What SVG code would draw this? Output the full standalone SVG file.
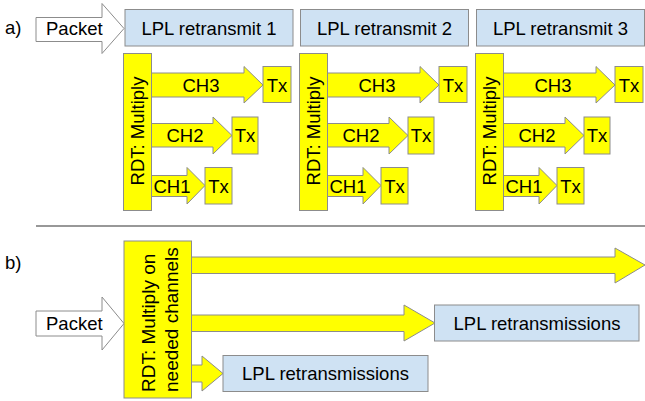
<svg xmlns="http://www.w3.org/2000/svg" width="645" height="401" viewBox="0 0 645 401">
<style>
text{font-family:"Liberation Sans",Arial,sans-serif;font-size:18.5px;fill:#000}
.c{text-anchor:middle}
.y{fill:#ffff00;stroke:#8c8c8c;stroke-width:1}
.b{fill:#cfe2f3;stroke:#8c8c8c;stroke-width:1}
.w{fill:#fff;stroke:#8c8c8c;stroke-width:1}
</style>
<defs>
<g id="grp">
<polygon class="y" points="151,73 244,73 244,66.5 263,85 244,103 244,97 151,97"/>
<rect class="y" x="263" y="66.5" width="28" height="36"/>
<text class="c" x="201" y="91.5">CH3</text>
<text class="c" x="277" y="91.5">Tx</text>
<polygon class="y" points="151,123.5 213,123.5 213,117 232,135.5 213,154 213,147 151,147"/>
<rect class="y" x="232" y="117" width="26" height="37"/>
<text class="c" x="185" y="142">CH2</text>
<text class="c" x="245" y="142">Tx</text>
<polygon class="y" points="151,175.5 187,175.5 187,167.5 205,185.5 187,204 187,196.5 151,196.5"/>
<rect class="y" x="205" y="167.5" width="27" height="36.5"/>
<text class="c" x="172" y="192.5">CH1</text>
<text class="c" x="218.5" y="192.5">Tx</text>
<rect class="y" x="123.5" y="53.5" width="28" height="157"/>
<text class="c" transform="translate(144,131) rotate(-90)">RDT: Multiply</text>
</g>
</defs>
<text x="5" y="34">a)</text>
<text x="5" y="269">b)</text>
<g id="packet-a">
<polygon class="w" points="36,17.5 102,17.5 102,3.5 124,28.5 102,53.5 102,41.5 36,41.5"/>
<text x="46" y="35">Packet</text>
</g>
<g id="lpl1"><rect class="b" x="125" y="9.5" width="168" height="36.5"/><text class="c" x="209" y="34.5">LPL retransmit 1</text></g>
<g id="lpl2"><rect class="b" x="300.5" y="9.5" width="168" height="36.5"/><text class="c" x="384.5" y="34.5">LPL retransmit 2</text></g>
<g id="lpl3"><rect class="b" x="476.5" y="9.5" width="168" height="36.5"/><text class="c" x="560.5" y="34.5">LPL retransmit 3</text></g>
<g id="group1"><use href="#grp"/></g>
<g id="group2"><use href="#grp" x="176"/></g>
<g id="group3"><use href="#grp" x="352"/></g>
<line x1="36" y1="226" x2="645" y2="226" stroke="#333" stroke-width="1.2"/>
<g id="connectors">
<polygon class="y" points="191,257 615,257 615,248 645,265 615,283 615,273.5 191,273.5"/>
<polygon class="y" points="191,315 404,315 404,305 435,323 404,341 404,331.5 191,331.5"/>
<polygon class="y" points="191,365 202,365 202,356 223,373.5 202,391 202,382 191,382"/>
</g>
<g id="packet-b">
<polygon class="w" points="36,311 102,311 102,297 124,323.5 102,350 102,336 36,336"/>
<text x="46" y="330">Packet</text>
</g>
<g id="rdt-b">
<rect class="y" x="124" y="241" width="67.5" height="157"/>
<text transform="translate(154.5,392) rotate(-90)" style="font-size:19px">RDT: Multiply on</text>
<text transform="translate(177.5,392) rotate(-90)" style="font-size:19px">needed channels</text>
</g>
<g id="lpl-mid"><rect class="b" x="434.5" y="305" width="204.5" height="36"/><text class="c" x="537" y="330">LPL retransmissions</text></g>
<g id="lpl-low"><rect class="b" x="223" y="355.5" width="205" height="36"/><text class="c" x="325.5" y="380">LPL retransmissions</text></g>
</svg>
